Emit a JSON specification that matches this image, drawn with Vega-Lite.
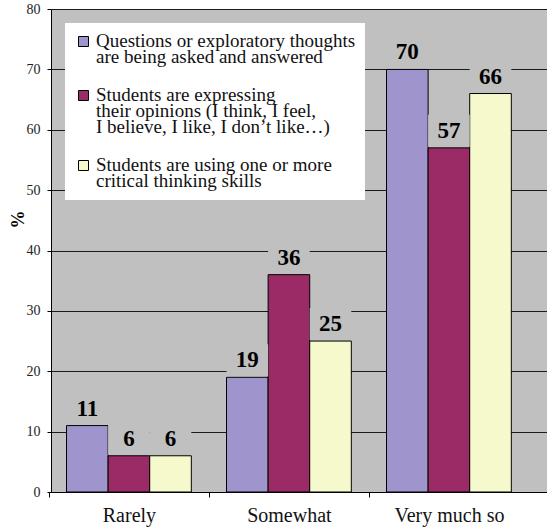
{
  "$schema": "https://vega.github.io/schema/vega-lite/v6.json",
  "width": 496,
  "height": 483,
  "autosize": {"type": "none"},
  "padding": {"left": 51, "top": 9, "right": 0, "bottom": 37},
  "background": "white",
  "view": {"fill": "#C0C0C0", "stroke": null},
  "config": {
    "font": "Liberation Serif",
    "axis": {"labelFont": "Liberation Serif", "titleFont": "Liberation Serif"},
    "legend": {"labelFont": "Liberation Serif"},
    "text": {"font": "Liberation Serif"}
  },
  "data": {
    "values": [
      {"cat": "Rarely", "series": "Questions or exploratory thoughts|are being asked and answered", "value": 11},
      {"cat": "Rarely", "series": "Students are expressing|their opinions (I think, I feel,|I believe, I like, I don’t like…)", "value": 6},
      {"cat": "Rarely", "series": "Students are using one or more|critical thinking skills", "value": 6},
      {"cat": "Somewhat", "series": "Questions or exploratory thoughts|are being asked and answered", "value": 19},
      {"cat": "Somewhat", "series": "Students are expressing|their opinions (I think, I feel,|I believe, I like, I don’t like…)", "value": 36},
      {"cat": "Somewhat", "series": "Students are using one or more|critical thinking skills", "value": 25},
      {"cat": "Very much so", "series": "Questions or exploratory thoughts|are being asked and answered", "value": 70},
      {"cat": "Very much so", "series": "Students are expressing|their opinions (I think, I feel,|I believe, I like, I don’t like…)", "value": 57},
      {"cat": "Very much so", "series": "Students are using one or more|critical thinking skills", "value": 66}
    ]
  },
  "encoding": {
    "x": {
      "field": "cat",
      "type": "nominal",
      "sort": ["Rarely", "Somewhat", "Very much so"],
      "scale": {"paddingInner": 0.22, "paddingOuter": 0.16, "align": 0.303},
      "axis": {
        "title": null,
        "labelAngle": 0,
        "labelFontSize": 20,
        "labelColor": "#111",
        "labelBaseline": "top",
        "labelPadding": 8,
        "domainColor": "#000",
        "domainWidth": 1,
        "tickColor": "#000",
        "tickSize": 5,
        "bandPosition": 0,
        "tickOffset": -17.6,
        "labelOffset": 17.6,
        "grid": false
      }
    },
    "xOffset": {
      "field": "series",
      "type": "nominal",
      "scale": {
        "domain": [
          "Questions or exploratory thoughts|are being asked and answered",
          "Students are expressing|their opinions (I think, I feel,|I believe, I like, I don’t like…)",
          "Students are using one or more|critical thinking skills"
        ],
        "paddingInner": 0,
        "paddingOuter": 0
      }
    },
    "y": {
      "field": "value",
      "type": "quantitative",
      "scale": {"domain": [0, 80], "nice": false},
      "axis": {
        "title": "%",
        "titleFontSize": 18,
        "titleFontWeight": "bold",
        "titleColor": "#000",
        "titleX": -33,
        "titleY": 210,
        "titleAlign": "center",
        "titleBaseline": "middle",
        "titleAngle": -90,
        "values": [0, 10, 20, 30, 40, 50, 60, 70, 80],
        "labelFontSize": 14,
        "labelColor": "#222",
        "labelPadding": 7,
        "tickSize": 4,
        "tickColor": "#000",
        "domainColor": "#000",
        "grid": true,
        "gridColor": "#1a1a1a",
        "gridWidth": 1,
        "gridOpacity": 1
      }
    }
  },
  "layer": [
    {
      "mark": {"type": "bar", "stroke": "#000", "strokeWidth": 1},
      "encoding": {
        "color": {
          "field": "series",
          "type": "nominal",
          "scale": {
            "domain": [
              "Questions or exploratory thoughts|are being asked and answered",
              "Students are expressing|their opinions (I think, I feel,|I believe, I like, I don’t like…)",
              "Students are using one or more|critical thinking skills"
            ],
            "range": ["#A094CC", "#9B2B66", "#F5F9CC"]
          },
          "legend": {
            "title": null,
            "orient": "none",
            "legendX": 14,
            "legendY": 14,
            "direction": "vertical",
            "fillColor": "#FFFFFF",
            "padding": 9,
            "rowPadding": 18,
            "symbolType": "square",
            "symbolSize": 100,
            "symbolStrokeColor": "#000",
            "symbolStrokeWidth": 1,
            "symbolOpacity": 1,
            "labelFontSize": 19,
            "labelColor": "#111",
            "labelOffset": 3,
            "labelLimit": 400,
            "labelBaseline": "alphabetic",
            "labelExpr": "split(datum.label, '|')",
            "encode": {"labels": {"update": {"lineHeight": {"value": 16}, "dy": {"value": 5}}}}
          }
        }
      }
    },
    {
      "mark": {"type": "rect", "fill": "#C0C0C0", "yOffset": -33, "y2Offset": -1},
      "encoding": {
        "y2": {"field": "value"}
      }
    },
    {
      "mark": {
        "type": "text",
        "fontSize": 23,
        "fontWeight": "bold",
        "color": "#000",
        "baseline": "alphabetic",
        "dy": -10
      },
      "encoding": {
        "text": {"field": "value", "type": "quantitative"}
      }
    }
  ]
}
